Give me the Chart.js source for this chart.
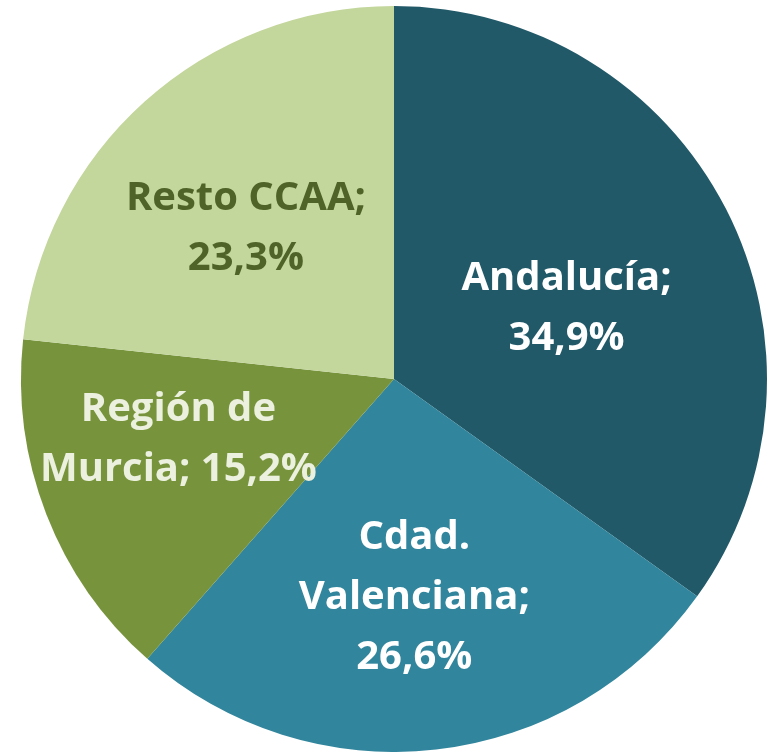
<!DOCTYPE html>
<html lang="es">
<head>
    <meta charset="utf-8"/>
    <title>Reparto por CCAA</title>
    <script src="https://cdn.jsdelivr.net/npm/chart.js"></script>
    <style>
        html, body { margin: 0; padding: 0; background: #fff; }
        #wrap { width: 768px; height: 752px; }
    </style>
</head>
<body>
<div id="wrap"><canvas id="pie" width="768" height="752"></canvas></div>
<script>
    // data
    const regions = ['Andalucía', 'Cdad. Valenciana', 'Región de Murcia', 'Resto CCAA'];
    const shares = [34.9, 26.6, 15.2, 23.3];
    const labelLines = [
        ['Andalucía;', '34,9%'],
        ['Cdad.', 'Valenciana;', '26,6%'],
        ['Región de', 'Murcia; 15,2%'],
        ['Resto CCAA;', '23,3%']
    ];
    const sliceColors = ['#215968', '#31859C', '#77933C', '#C3D69B'];
    const textColors = ['#FFFFFF', '#FFFFFF', '#EBF1DE', '#4F6228'];

    // where to put each label, as a fraction of the radius (+ small nudge)
    const labelSpot = [
        { r: 0.52, dx: 0, dy: 15 },
        { r: 0.60, dx: -5, dy: -7 },
        { r: 0.60, dx: -7, dy: -24 },
        { r: 0.57, dx: -6, dy: 5 }
    ];

    const sliceLabels = {
        id: 'sliceLabels',
        afterDatasetsDraw(chart) {
            const ctx = chart.ctx;
            const meta = chart.getDatasetMeta(0);
            const capH = 29, lh = 60;
            ctx.save();
            ctx.font = 'bold 40px "Open Sans", Lato, sans-serif';
            ctx.textAlign = 'center';
            ctx.textBaseline = 'alphabetic';
            meta.data.forEach((arc, i) => {
                const p = arc.getProps(['x', 'y', 'startAngle', 'endAngle', 'outerRadius'], true);
                const mid = (p.startAngle + p.endAngle) / 2;
                const s = labelSpot[i];
                const cx = p.x + Math.cos(mid) * p.outerRadius * s.r + s.dx;
                const cy = p.y + Math.sin(mid) * p.outerRadius * s.r + s.dy;
                const lines = labelLines[i];
                ctx.fillStyle = textColors[i];
                lines.forEach((t, k) => {
                    const base = cy + capH / 2 + (k - (lines.length - 1) / 2) * lh;
                    ctx.fillText(t, cx, base);
                });
            });
            ctx.restore();
        }
    };

    new Chart(document.getElementById('pie'), {
        type: 'pie',
        data: {
            labels: regions,
            datasets: [{
                data: shares,
                backgroundColor: sliceColors,
                borderWidth: 0
            }]
        },
        options: {
            responsive: false,
            animation: false,
            layout: { padding: { left: 21, right: 1, top: 6, bottom: 0 } },
            plugins: {
                legend: { display: false },
                tooltip: { enabled: false }
            }
        },
        plugins: [sliceLabels]
    });
</script>
</body>
</html>
